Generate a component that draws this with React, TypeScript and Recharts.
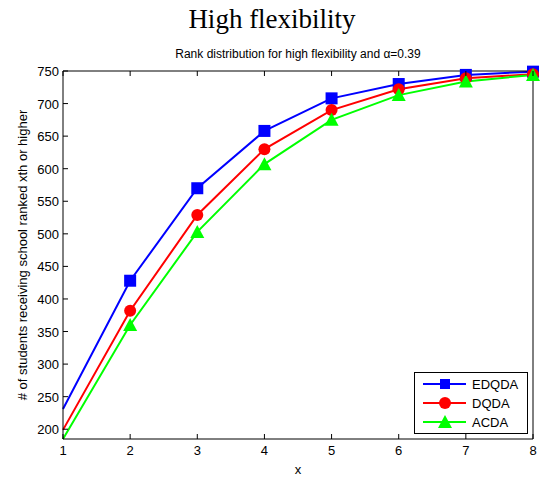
import React from "react"
import { LineChart, Line, XAxis, YAxis } from "recharts"

// x positions (rank) and the three series
const ranks = [1, 2, 3, 4, 5, 6, 7, 8]
const edqda = [231, 428, 570, 658, 708, 730, 744, 749]
const dqda = [199, 382, 529, 630, 690, 722, 739, 745]
const acda = [185, 360, 503, 607, 675, 713, 734, 744]
const yTicks = [200, 250, 300, 350, 400, 450, 500, 550, 600, 650, 700, 750]

const data = ranks.map((r, i) => ({ x: r, edqda: edqda[i], dqda: dqda[i], acda: acda[i] }))

const FONT = "'Liberation Sans', Arial, sans-serif"
const TICK = 5

const Square = ({ cx, cy, color, s = 6 }: any) => (
  <rect x={cx - s} y={cy - s} width={s * 2} height={s * 2} fill={color} />
)
const Circle = ({ cx, cy, color }: any) => <circle cx={cx} cy={cy} r={6} fill={color} />
const Triangle = ({ cx, cy, color }: any) => (
  <polygon points={`${cx},${cy - 7} ${cx + 7},${cy + 6} ${cx - 7},${cy + 6}`} fill={color} />
)

// markers are not drawn at the first point
const dotOf = (Shape: any, color: string) => (p: any) =>
  p.index === 0 ? <g key={p.index} /> : <Shape key={p.index} cx={p.cx} cy={p.cy} color={color} />

const LeftTick = ({ x, y, payload }: any) => (
  <g>
    <line x1={x} y1={y} x2={x + TICK} y2={y} stroke="#000" />
    <text x={x - 4} y={y} dy={5} textAnchor="end" fontSize={13} fontFamily={FONT} fill="#000">
      {payload.value}
    </text>
  </g>
)
const RightTick = ({ x, y }: any) => <line x1={x} y1={y} x2={x - TICK} y2={y} stroke="#000" />
const BottomTick = ({ x, y, payload }: any) => (
  <g>
    <line x1={x} y1={y} x2={x} y2={y - TICK} stroke="#000" />
    <text x={x} y={y + 16} textAnchor="middle" fontSize={13} fontFamily={FONT} fill="#000">
      {payload.value}
    </text>
  </g>
)
const TopTick = ({ x, y }: any) => <line x1={x} y1={y} x2={x} y2={y + TICK} stroke="#000" />

const legendItems = [
  { name: "EDQDA", color: "#0000ff", Shape: Square },
  { name: "DQDA", color: "#ff0000", Shape: Circle },
  { name: "ACDA", color: "#00ff00", Shape: Triangle },
]

const LegendBox = () => (
  <svg width={114} height={62} style={{ display: "block" }}>
    <rect x={0.5} y={0.5} width={113} height={61} fill="#fff" stroke="#000" />
    {legendItems.map((it, i) => {
      const y = 12 + i * 19
      return (
        <g key={it.name}>
          <line x1={9} y1={y} x2={52} y2={y} stroke={it.color} strokeWidth={2} />
          <it.Shape cx={31} cy={y} color={it.color} s={5} />
          <text x={58} y={y + 5} fontSize={13} fontFamily={FONT} fill="#000">
            {it.name}
          </text>
        </g>
      )
    })}
  </svg>
)

export default function App() {
  return (
    <div style={{ position: "absolute", left: 0, top: 0, width: 544, height: 480, background: "#fff" }}>
      <div
        style={{
          position: "absolute", top: 4, left: 0, width: 544, textAlign: "center",
          fontFamily: "'Liberation Serif', 'DejaVu Serif', serif", fontSize: 27, color: "#000",
        }}
      >
        High flexibility
      </div>
      <div
        style={{
          position: "absolute", top: 47, left: 63, width: 470, textAlign: "center",
          fontFamily: FONT, fontSize: 12, color: "#000",
        }}
      >
        Rank distribution for high flexibility and α=0.39
      </div>
      <div style={{ position: "absolute", left: 22, top: 255, width: 0, height: 0 }}>
        <div
          style={{
            position: "absolute", transform: "translate(-50%, -50%) rotate(-90deg)",
            whiteSpace: "nowrap", fontFamily: FONT, fontSize: 13, color: "#000",
          }}
        >
          # of students receiving school ranked xth or higher
        </div>
      </div>
      <div
        style={{
          position: "absolute", top: 462, left: 0, width: 544, paddingLeft: 52, boxSizing: "border-box",
          textAlign: "center", fontFamily: FONT, fontSize: 13, color: "#000",
        }}
      >
        x
      </div>
      <LineChart width={544} height={480} data={data} margin={{ top: 51, right: 0, bottom: 11, left: 23 }}>
        <XAxis
          xAxisId="b" dataKey="x" type="number" domain={[1, 8]} ticks={ranks} height={30}
          tickSize={0} tickMargin={0} tickLine={false} tick={<BottomTick />}
          axisLine={{ stroke: "#000" }}
        />
        <XAxis
          xAxisId="t" orientation="top" dataKey="x" type="number" domain={[1, 8]} ticks={ranks} height={20}
          tickSize={0} tickMargin={0} tickLine={false} tick={<TopTick />}
          axisLine={{ stroke: "#000" }}
        />
        <YAxis
          yAxisId="l" type="number" domain={[185, 750]} ticks={yTicks} width={40}
          tickSize={0} tickMargin={0} tickLine={false} tick={<LeftTick />}
          axisLine={{ stroke: "#000" }}
        />
        <YAxis
          yAxisId="r" orientation="right" type="number" domain={[185, 750]} ticks={yTicks} width={11}
          tickSize={0} tickMargin={0} tickLine={false} tick={<RightTick />}
          axisLine={{ stroke: "#000" }}
        />
        <Line xAxisId="b" yAxisId="l" dataKey="edqda" stroke="#0000ff" strokeWidth={2}
          dot={dotOf(Square, "#0000ff")} isAnimationActive={false} />
        <Line xAxisId="b" yAxisId="l" dataKey="dqda" stroke="#ff0000" strokeWidth={2}
          dot={dotOf(Circle, "#ff0000")} isAnimationActive={false} />
        <Line xAxisId="b" yAxisId="l" dataKey="acda" stroke="#00ff00" strokeWidth={2}
          dot={dotOf(Triangle, "#00ff00")} isAnimationActive={false} />
      </LineChart>
      <div style={{ position: "absolute", left: 414, top: 372 }}>
        <LegendBox />
      </div>
    </div>
  )
}
